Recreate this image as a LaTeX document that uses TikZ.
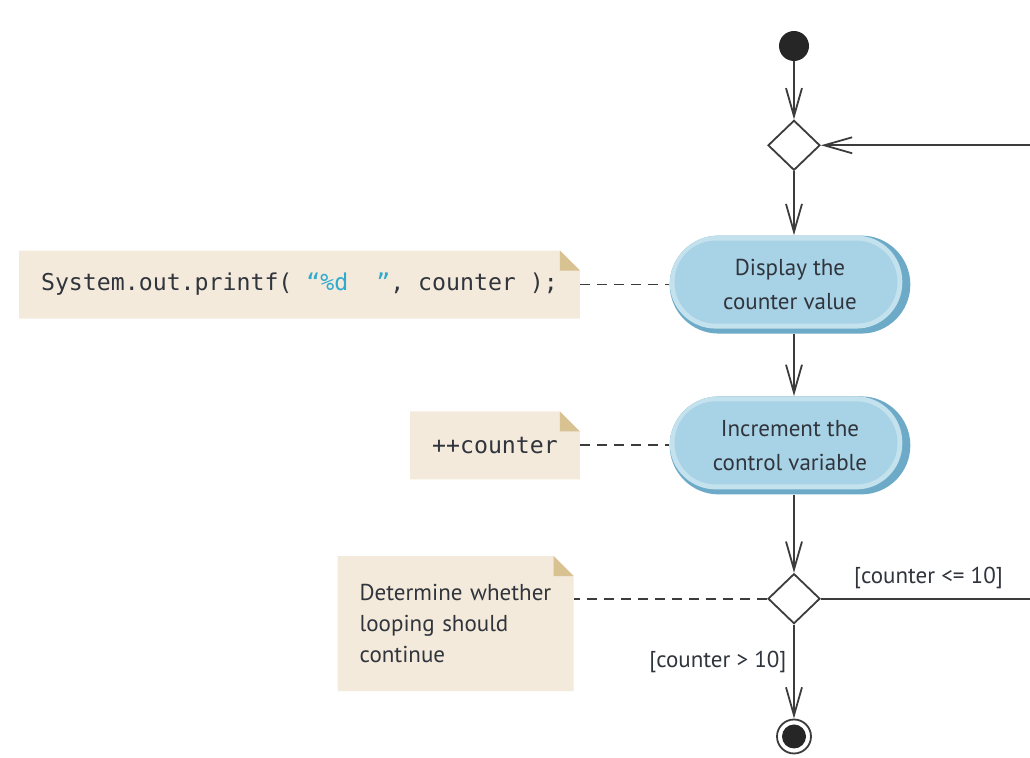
\documentclass[tikz,border=0pt]{standalone}
\usepackage{fontspec}
\setmainfont{PT Sans}
\setmonofont{DejaVu Sans Mono}
\usepackage{xcolor}
\usetikzlibrary{positioning,arrows.meta,shapes.geometric,shapes.misc}
\definecolor{notebg}{RGB}{243,234,219}
\definecolor{notefold}{RGB}{216,194,146}
\definecolor{actfill}{RGB}{168,210,229}
\definecolor{actedge}{RGB}{196,225,238}
\definecolor{actrim}{RGB}{108,170,200}
\definecolor{linegray}{RGB}{60,60,60}
\definecolor{textgray}{RGB}{48,52,60}
\definecolor{codecyan}{RGB}{45,170,205}

\begin{document}
\begin{tikzpicture}[
    x=0.5pt, y=-0.5pt,
    flow/.style={draw=linegray, line width=0.9pt, -{Straight Barb[length=14pt,width=8pt]}},
    link/.style={draw=linegray, line width=0.9pt, dash pattern=on 5pt off 3.5pt},
    startdot/.style={circle, fill=black!85, minimum size=15pt, inner sep=0pt},
    enddot/.style={circle, draw=linegray, line width=0.9pt, minimum size=17pt, inner sep=0pt,
                   path picture={\fill[black!85] (path picture bounding box.center) circle (6pt);}},
    gate/.style={diamond, draw=linegray, line width=0.9pt, fill=white,
                 minimum width=26pt, minimum height=25pt, inner sep=0pt},
    action/.style={rounded rectangle, fill=actrim, minimum width=127pt, minimum height=49pt,
                   align=center, text=textgray, font=\fontsize{11.5}{17}\selectfont,
                   path picture={
                     \fill[actedge, rounded corners=23pt]
                       ([yshift=2.5pt]path picture bounding box.south west) rectangle
                       ([xshift=-4pt]path picture bounding box.north east);
                     \fill[actfill, rounded corners=20.5pt]
                       ([xshift=2.5pt,yshift=5pt]path picture bounding box.south west) rectangle
                       ([xshift=-6.5pt,yshift=-2.5pt]path picture bounding box.north east);
                   }},
    notebox/.style={inner xsep=11pt, minimum height=34pt, text=textgray,
                    path picture={
                      \fill[notebg] (path picture bounding box.south west)
                        -- (path picture bounding box.north west)
                        -- ([xshift=-10pt]path picture bounding box.north east)
                        -- ([yshift=-10pt]path picture bounding box.north east)
                        -- (path picture bounding box.south east) -- cycle;
                      \fill[notefold] ([xshift=-10pt]path picture bounding box.north east)
                        -- ([xshift=-10pt,yshift=-10pt]path picture bounding box.north east)
                        -- ([yshift=-10pt]path picture bounding box.north east) -- cycle;
                    }},
    codetext/.style={font=\ttfamily\fontsize{11.6}{14}\selectfont},
    guard/.style={text=textgray, font=\fontsize{11.5}{14}\selectfont}
]
    \useasboundingbox (0,0) rectangle (1030,758);

    % main column
    \node[startdot] (init) at (794,46) {};
    \node[gate, below=29pt of init] (merge) {};
    \node[action, below=32pt of merge, xshift=-2pt] (show) {Display the\\counter value};
    \node[action, below=31pt of show] (incr) {Increment the\\control variable};
    \node[gate, below=39pt of incr, xshift=2pt] (check) {};
    \node[enddot, below=47pt of check] (stop) {};
    \coordinate (loopR) at (1045,0);

    % notes
    \node[notebox, codetext, left=44.5pt of show] (note1)
        {System.out.printf( {\color{codecyan}“\%d\ \ ”}, counter );};
    \node[notebox, codetext, left=44.5pt of incr] (note2) {++counter};
    \node[notebox, text width=96pt, align=left, minimum height=67.5pt,
          font=\fontsize{11.5}{15.5}\selectfont, left=96.5pt of check, yshift=-12.5pt] (note3)
        {Determine whether\\looping should\\continue};

    \draw[link] (note1.east) -- (show.west);
    \draw[link] (note2.east) -- (incr.west);
    \draw[link] (check.west) -- (check.west -| note3.east);

    % flows
    \draw[flow] (init) -- (merge);
    \draw[flow] (merge.south) -- (merge.south |- show.north);
    \draw[flow] (show.south -| merge.south) -- (incr.north -| merge.south);
    \draw[flow] (incr.south -| check.north) -- (check.north);
    \draw[flow] (check) -- node[guard, left, pos=0.4] {[counter > 10]} (stop);
    \draw[flow] (check.east) -- node[guard, above=1pt, pos=0.48] {[counter <= 10]}
        (check.east -| loopR) |- (merge.east);
\end{tikzpicture}
\end{document}
